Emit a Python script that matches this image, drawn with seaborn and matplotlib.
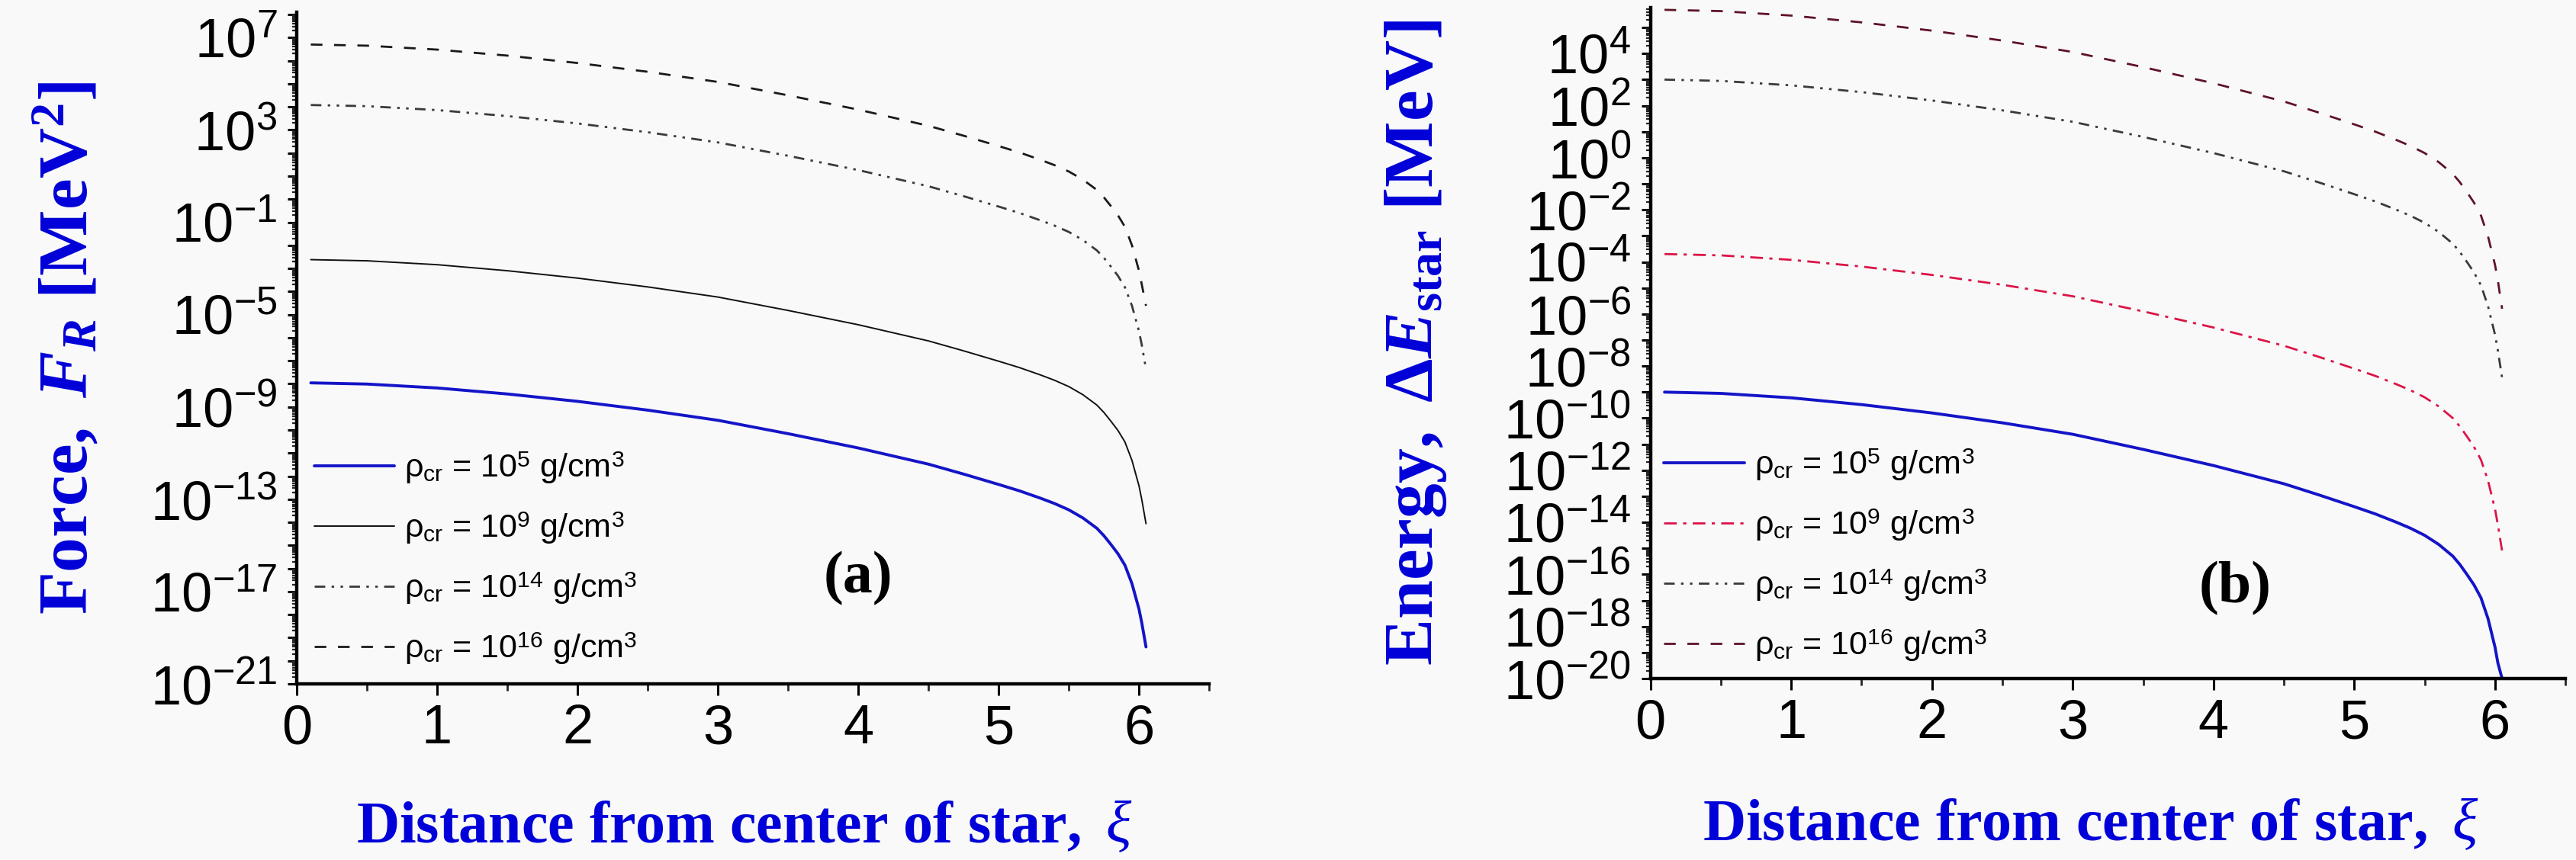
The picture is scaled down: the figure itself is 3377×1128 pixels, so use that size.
import numpy as np
import pandas as pd
import matplotlib
matplotlib.use("Agg")
import matplotlib.pyplot as plt
import matplotlib.ticker as mticker
import seaborn as sns

# ---------------- data ----------------
xi = [0.1, 0.5, 1.0, 1.5, 2.0, 2.5, 3.0, 3.5, 4.0, 4.5, 4.75, 5.0, 5.15, 5.3, 5.4, 5.5,
      5.6, 5.7, 5.75, 5.8, 5.85, 5.9, 5.95, 6.0, 6.02, 6.05]

# panel (a): force F_R [MeV^2]
force_rho5 = [1.10e-8, 9.77e-9, 6.61e-9, 3.63e-9, 1.74e-9, 7.24e-10, 2.63e-10, 6.92e-11, 1.66e-11,
              3.31e-12, 1.23e-12, 4.37e-13, 2.29e-13, 1.10e-13, 6.46e-14, 3.47e-14, 1.55e-14,
              5.50e-15, 2.63e-15, 1.10e-15, 4.37e-16, 1.38e-16, 2.19e-17, 1.74e-18, 4.37e-19, 3.98e-20]
force_rho9 = [2.40e-3, 2.14e-3, 1.45e-3, 7.94e-4, 3.80e-4, 1.58e-4, 5.75e-5, 1.51e-5, 3.63e-6,
              7.24e-7, 2.69e-7, 9.55e-8, 5.01e-8, 2.40e-8, 1.41e-8, 7.59e-9, 3.39e-9, 1.20e-9,
              5.75e-10, 2.40e-10, 9.55e-11, 3.02e-11, 4.79e-12, 3.80e-13, 9.55e-14, 8.71e-15]
force_rho14 = [1.20e4, 1.07e4, 7.24e3, 3.98e3, 1.91e3, 7.94e2, 2.88e2, 75.9, 18.2, 3.63, 1.35,
               0.479, 0.251, 0.120, 0.0708, 0.0380, 0.0170, 6.03e-3, 2.88e-3, 1.20e-3, 4.79e-4,
               1.51e-4, 2.40e-5, 1.91e-6, 4.79e-7, 4.37e-8]
force_rho16 = [5.01e6, 4.47e6, 3.02e6, 1.66e6, 7.94e5, 3.31e5, 1.20e5, 3.16e4, 7.59e3, 1.51e3,
               5.62e2, 2.00e2, 1.05e2, 50.1, 29.5, 15.8, 7.08, 2.51, 1.20, 0.501, 0.200, 0.0631,
               0.0100, 7.94e-4, 2.00e-4, 2.40e-5]

# panel (b): energy Delta E_star [MeV]
energy_rho5 = [1.00e-9, 8.91e-10, 6.03e-10, 3.31e-10, 1.58e-10, 6.61e-11, 2.40e-11, 6.31e-12,
               1.51e-12, 3.02e-13, 1.12e-13, 3.98e-14, 2.09e-14, 1.00e-14, 5.89e-15, 3.16e-15,
               1.41e-15, 5.01e-16, 2.40e-16, 1.00e-16, 3.98e-17, 1.26e-17, 2.00e-18, 1.58e-19,
               3.98e-20, 1.0e-20]
energy_rho9 = [2.00e-4, 1.78e-4, 1.20e-4, 6.61e-5, 3.16e-5, 1.32e-5, 4.79e-6, 1.26e-6, 3.02e-7,
               6.03e-8, 2.24e-8, 7.94e-9, 4.17e-9, 2.00e-9, 1.17e-9, 6.31e-10, 2.82e-10, 1.00e-10,
               4.79e-11, 2.00e-11, 7.94e-12, 2.51e-12, 3.98e-13, 3.16e-14, 7.94e-15, 7.94e-16]
energy_rho14 = [1.00e3, 8.91e2, 6.03e2, 3.31e2, 1.58e2, 66.1, 24.0, 6.31, 1.51, 0.302, 0.112,
                0.0398, 0.0209, 0.0100, 5.89e-3, 3.16e-3, 1.41e-3, 5.01e-4, 2.40e-4, 1.00e-4,
                3.98e-5, 1.26e-5, 2.00e-6, 1.58e-7, 3.98e-8, 3.55e-9]
energy_rho16 = [4.79e5, 4.27e5, 2.88e5, 1.58e5, 7.59e4, 3.16e4, 1.15e4, 3.02e3, 7.24e2, 1.45e2,
                53.7, 19.1, 10.0, 4.79, 2.82, 1.51, 0.676, 0.240, 0.115, 0.0479, 0.0191, 6.03e-3,
                9.55e-4, 7.59e-5, 1.91e-5, 1.58e-6]

legend_labels = [
    r'ρ$_{\mathregular{cr}}$ = 10$^{\mathregular{5}}$ g/cm$^{\mathregular{3}}$',
    r'ρ$_{\mathregular{cr}}$ = 10$^{\mathregular{9}}$ g/cm$^{\mathregular{3}}$',
    r'ρ$_{\mathregular{cr}}$ = 10$^{\mathregular{14}}$ g/cm$^{\mathregular{3}}$',
    r'ρ$_{\mathregular{cr}}$ = 10$^{\mathregular{16}}$ g/cm$^{\mathregular{3}}$',
]
xlabel_text = r'$\mathrm{Distance\ from\ center\ of\ star,\ }\mathcal{\xi}$'
ylabel_a = r'$\mathrm{Force,\ }F_{R}\mathrm{\ [MeV}^{2}\mathrm{]}$'
ylabel_b = r'$\mathrm{Energy,\ \Delta}E_{\mathrm{star}}\mathrm{\ [MeV]}$'
panel_tags = ['(a)', '(b)']

# ---------------- style ----------------
sns.set_theme(style="ticks")
BG = '#f9f9f9'
plt.rcParams['font.family'] = ['Liberation Sans', 'DejaVu Sans']
plt.rcParams['mathtext.fontset'] = 'custom'
plt.rcParams['mathtext.rm'] = 'Liberation Serif:bold'
plt.rcParams['mathtext.it'] = 'Liberation Serif:italic:bold'
plt.rcParams['mathtext.bf'] = 'Liberation Serif:bold'
plt.rcParams['mathtext.cal'] = 'Liberation Serif:italic'
plt.rcParams['figure.facecolor'] = BG
plt.rcParams['axes.facecolor'] = BG
plt.rcParams['savefig.facecolor'] = BG

LABEL_BLUE = '#0000d8'

fig = plt.figure(figsize=(33.77, 11.28), dpi=100)
ax_a = fig.add_axes([0.1152, 0.2048, 0.3542, 0.781])
ax_b = fig.add_axes([0.6407, 0.2110, 0.3552, 0.780])

styles_a = [
    dict(color='#1414c8', lw=2.8, ls='-'),
    dict(color='#111111', lw=1.4, ls='-'),
    dict(color='#3a3a3a', lw=2.0, ls=(0, (5, 3, 1.2, 3, 1.2, 3))),
    dict(color='#1a1a1a', lw=2.0, ls=(0, (5.5, 5.5))),
]
styles_b = [
    dict(color='#1414c8', lw=2.8, ls='-'),
    dict(color='#dc1446', lw=2.0, ls=(0, (6, 3, 1.5, 3))),
    dict(color='#3a3a3a', lw=2.0, ls=(0, (5, 3, 1.2, 3, 1.2, 3))),
    dict(color='#5e1226', lw=2.0, ls=(0, (5.5, 5.5))),
]

series_a = [force_rho5, force_rho9, force_rho14, force_rho16]
series_b = [energy_rho5, energy_rho9, energy_rho14, energy_rho16]


def draw_panel(ax, series, styles, ylim, label_mod, label_rem, ylabel, ylabel_x,
               xlabel_xy, legend_anchor, tag, tag_xy):
    for vals, st, lab in zip(series, styles, legend_labels):
        df = pd.DataFrame({'xi': xi, 'v': vals})
        sns.lineplot(data=df, x='xi', y='v', ax=ax, color=st['color'], linewidth=st['lw'],
                     linestyle=st['ls'], label=lab, errorbar=None, sort=False)
    ax.set_yscale('log')
    ax.set_ylim(*ylim)
    ax.set_xlim(0, 6.5)
    ax.xaxis.set_major_locator(mticker.MultipleLocator(1))
    ax.xaxis.set_minor_locator(mticker.MultipleLocator(0.5))
    ax.xaxis.set_major_formatter(mticker.FormatStrFormatter('%d'))
    ax.yaxis.set_major_locator(mticker.LogLocator(base=10, subs=(1.0,), numticks=200))
    ax.yaxis.set_minor_locator(mticker.LogLocator(base=10, subs=np.arange(2, 10), numticks=2000))

    def fmt(v, pos):
        if v <= 0:
            return ''
        e = int(round(np.log10(v)))
        if e % label_mod == label_rem:
            return r'$\mathregular{10^{%d}}$' % e
        return ''
    ax.yaxis.set_major_formatter(mticker.FuncFormatter(fmt))
    ax.yaxis.set_minor_formatter(mticker.NullFormatter())

    for s in ['top', 'right']:
        ax.spines[s].set_visible(False)
    for s in ['left', 'bottom']:
        ax.spines[s].set_linewidth(3.2)
        ax.spines[s].set_color('black')

    ax.tick_params(axis='x', which='major', direction='out', length=11, width=2.2,
                   labelsize=52, pad=8, colors='black')
    ax.tick_params(axis='x', which='minor', direction='out', length=6.5, width=2.0)
    ax.tick_params(axis='y', which='major', direction='out', length=8.5, width=2.2,
                   labelsize=52, pad=10, colors='black')
    ax.tick_params(axis='y', which='minor', direction='out', length=4, width=1.6)

    ax.set_xlabel(xlabel_text, fontsize=56, color=LABEL_BLUE)
    ax.xaxis.set_label_coords(*xlabel_xy)
    ax.set_ylabel(ylabel, fontsize=66, color=LABEL_BLUE)
    ax.yaxis.set_label_coords(ylabel_x, 0.5)

    leg = ax.legend(loc='lower left', bbox_to_anchor=legend_anchor, frameon=False,
                    fontsize=31, handlelength=2.45, handletextpad=0.3,
                    labelspacing=0.75, borderpad=0, borderaxespad=0)
    for t in leg.get_texts():
        t.set_color('black')

    ax.text(tag_xy[0], tag_xy[1], tag, transform=ax.transAxes, fontsize=56,
            fontweight='bold', family='Liberation Serif', ha='center', va='center',
            color='black')


draw_panel(ax_a, series_a, styles_a, (1e-21, 10 ** 8.1), 4, 3, ylabel_a, -0.214,
           (0.491, -0.171), (0.019, 0.026), panel_tags[0], (0.615, 0.157))
draw_panel(ax_b, series_b, styles_b, (1e-20, 10 ** 5.76), 2, 0, ylabel_b, -0.221,
           (0.481, -0.176), (0.0146, 0.023), panel_tags[1], (0.639, 0.135))

fig.savefig('out.png', dpi=100)
